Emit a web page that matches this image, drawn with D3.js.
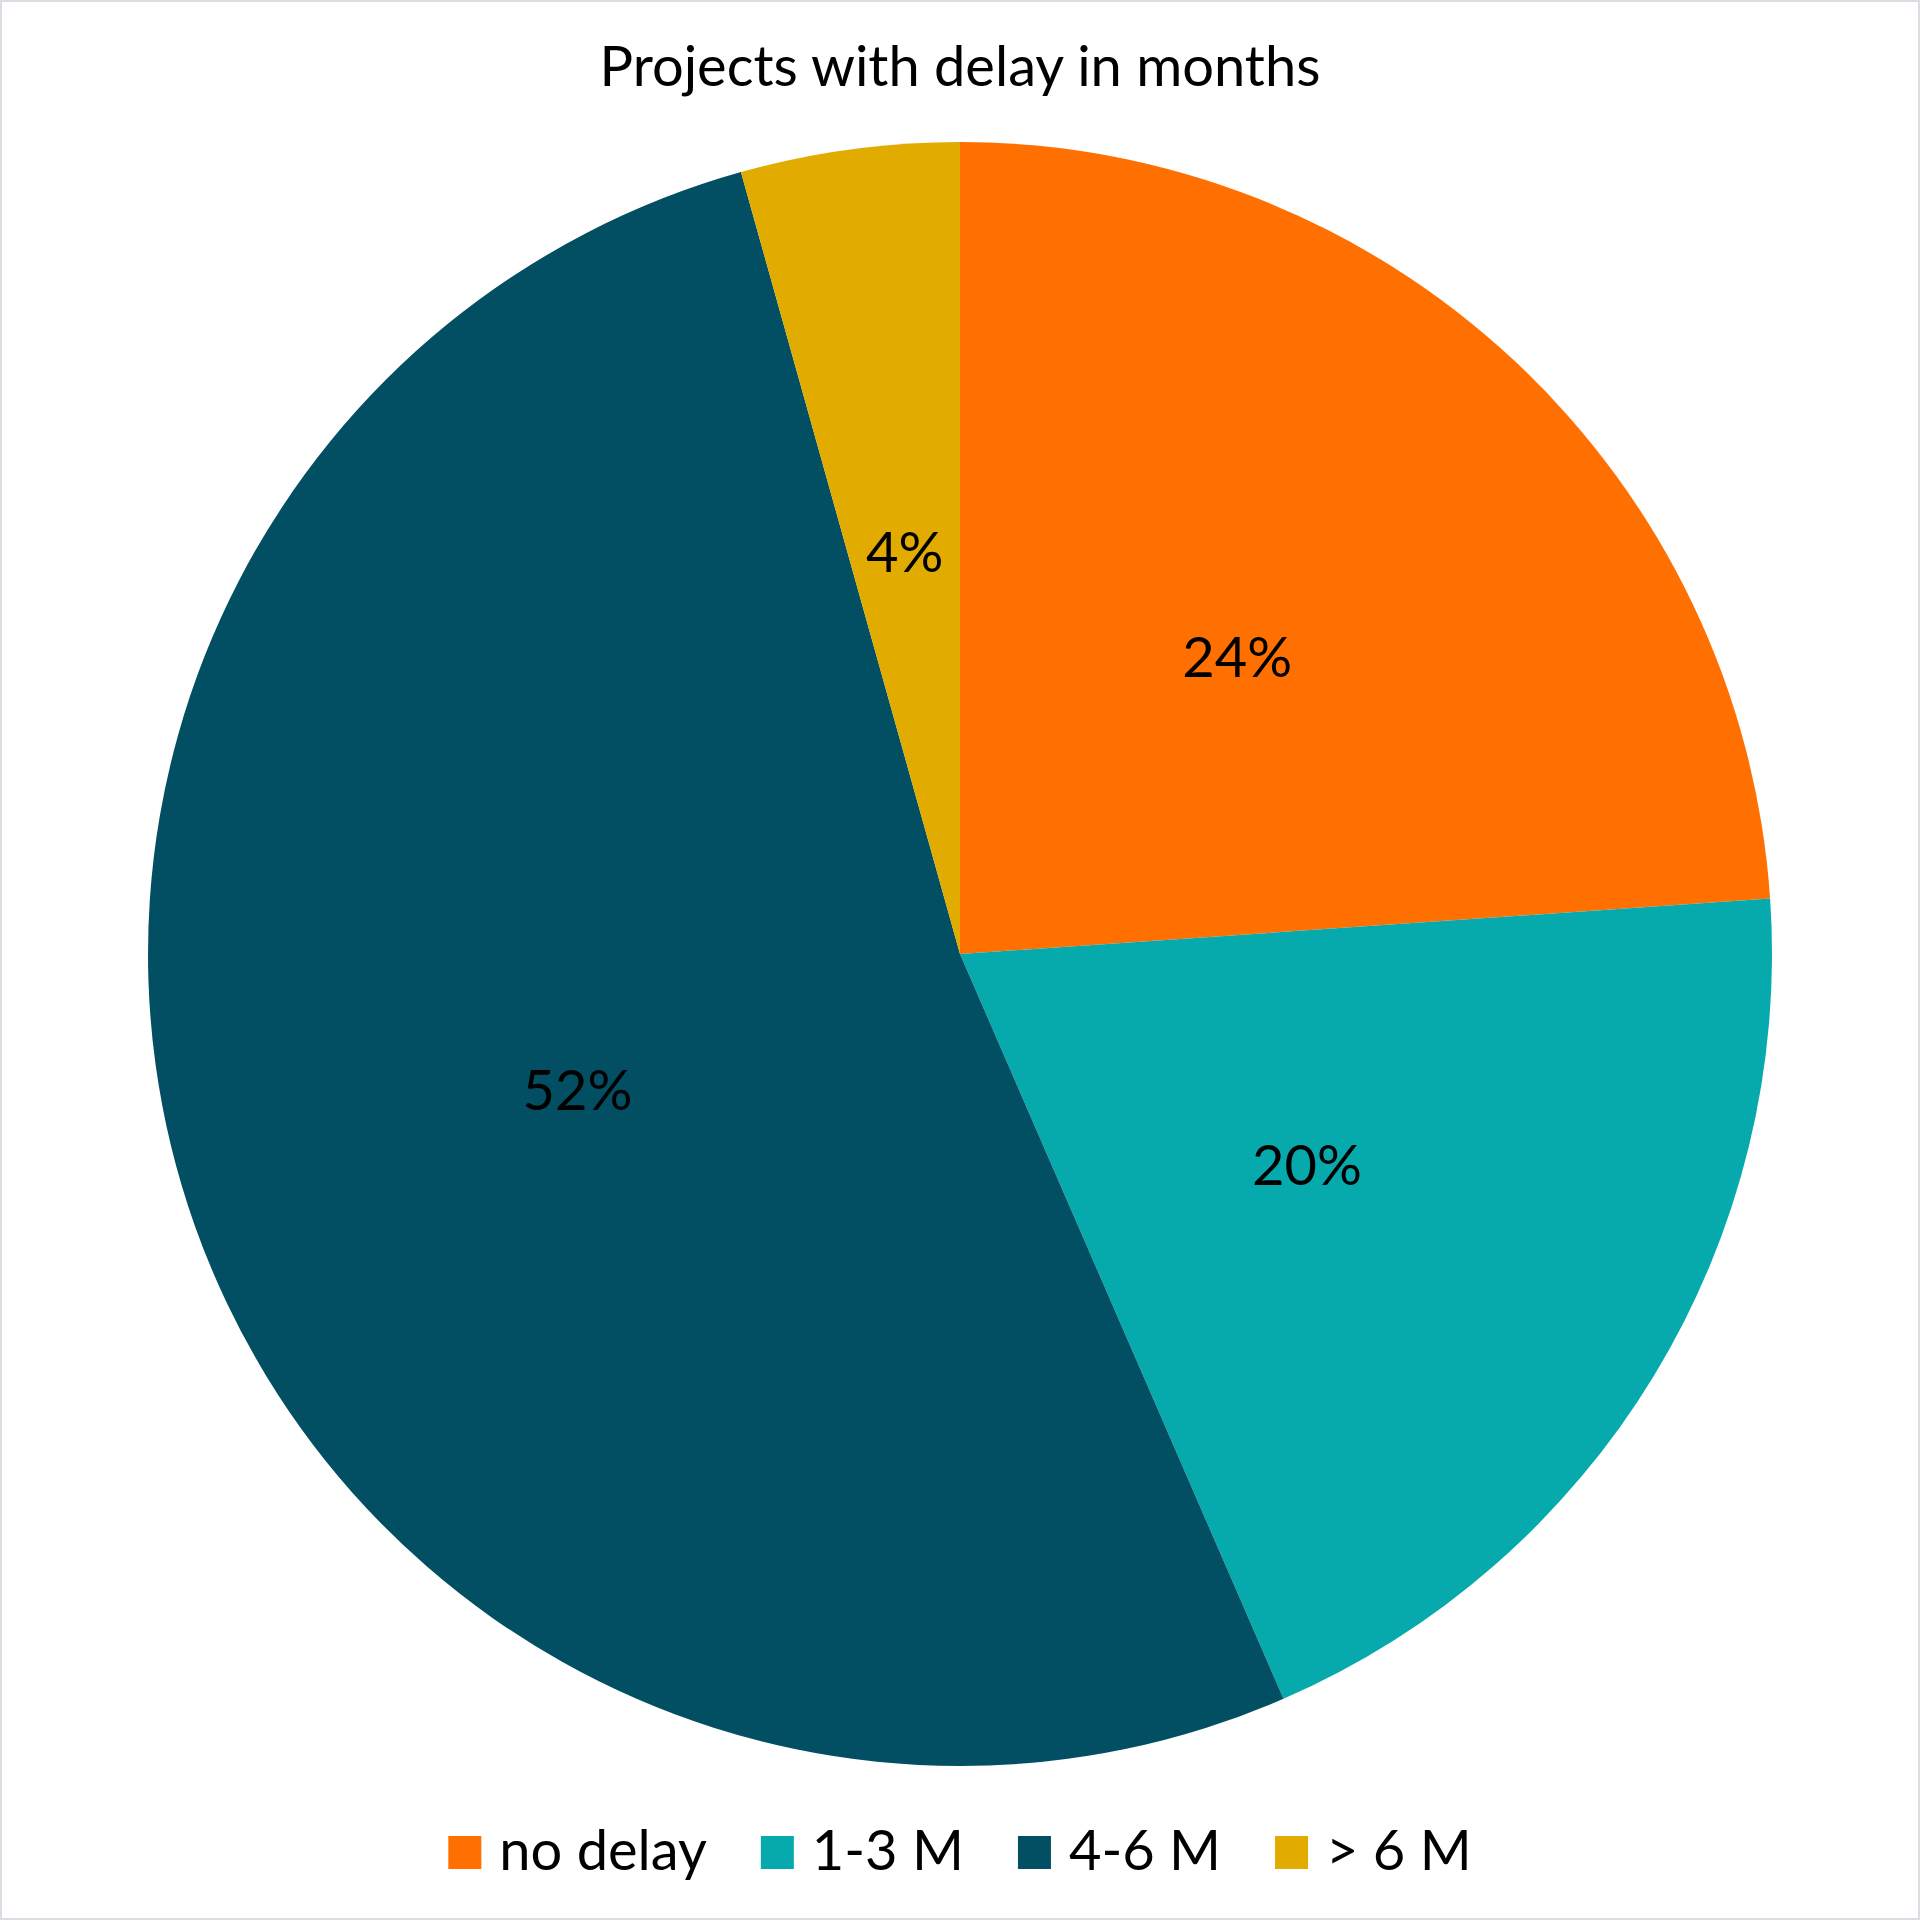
<!DOCTYPE html>
<html lang="en">
<head>
    <meta charset="utf-8">
    <title>Projects with delay in months</title>
    <script src="https://d3js.org/d3.v7.min.js"></script>
    <style>
        html, body {
            margin: 0;
            padding: 0;
            background: #ffffff;
        }
        text {
            font-family: Lato, "Open Sans", sans-serif;
            fill: #000000;
        }
    </style>
</head>
<body>
<script type="text/javascript">

    // chart data (project counts per delay group)
    var categories = ["no delay", "1-3 M", "4-6 M", "> 6 M"];
    var counts = [11, 9, 24, 2];
    var colors = ["#FF7000", "#06AAAD", "#024F63", "#E1AB00"];
    var title = "Projects with delay in months";

    var w = 1920;
    var h = 1920;
    var cx = 960, cy = 954;
    var radius = 812;
    var fontSize = 56;

    var svg = d3.select("body")
        .append("svg")
        .attr("width", w)
        .attr("height", h);

    // outer border
    svg.append("rect")
        .attr("x", 1)
        .attr("y", 1)
        .attr("width", w - 2)
        .attr("height", h - 2)
        .attr("fill", "#ffffff")
        .attr("stroke", "#D9DDE4")
        .attr("stroke-width", 2);

    svg.append("text")
        .attr("x", w / 2)
        .attr("y", 86)
        .attr("text-anchor", "middle")
        .style("font-size", fontSize + "px")
        .text(title);

    var total = d3.sum(counts);
    var data = categories.map(function(c, i) {
        return { name: c, value: counts[i], color: colors[i] };
    });

    var pie = d3.pie()
        .sort(null)
        .value(function(d) { return d.value; });

    var arc = d3.arc()
        .innerRadius(0)
        .outerRadius(radius);

    var labelArc = d3.arc()
        .innerRadius(radius * 0.5)
        .outerRadius(radius * 0.5);

    var g = svg.append("g")
        .attr("transform", "translate(" + cx + "," + cy + ")");

    var slices = pie(data);

    g.selectAll("path.slice")
        .data(slices)
        .enter()
        .append("path")
        .attr("class", "slice")
        .attr("d", arc)
        .attr("fill", function(d) { return d.data.color; });

    g.selectAll("text.label")
        .data(slices)
        .enter()
        .append("text")
        .attr("class", "label")
        .attr("transform", function(d) { return "translate(" + labelArc.centroid(d) + ")"; })
        .attr("text-anchor", "middle")
        .attr("dy", "0.36em")
        .style("font-size", fontSize + "px")
        .text(function(d) { return Math.round(d.data.value / total * 100) + "%"; });

    // legend, laid out from measured text widths and centred
    var box = 33, boxGap = 18, itemGap = 54, legendY = 1870;
    var legend = svg.append("g");
    var items = legend.selectAll("g.item")
        .data(data)
        .enter()
        .append("g")
        .attr("class", "item");

    items.append("rect")
        .attr("width", box)
        .attr("height", box)
        .attr("y", -box - 1)
        .attr("fill", function(d) { return d.color; });

    items.append("text")
        .attr("x", box + boxGap)
        .style("font-size", fontSize + "px")
        .text(function(d) { return d.name; });

    var offset = 0;
    var offsets = [];
    items.each(function() {
        var tw = d3.select(this).select("text").node().getComputedTextLength();
        offsets.push(offset);
        offset += box + boxGap + tw + itemGap;
    });
    var legendWidth = offset - itemGap;
    items.attr("transform", function(d, i) {
        return "translate(" + (w / 2 - legendWidth / 2 + offsets[i]) + "," + legendY + ")";
    });

</script>
</body>
</html>
